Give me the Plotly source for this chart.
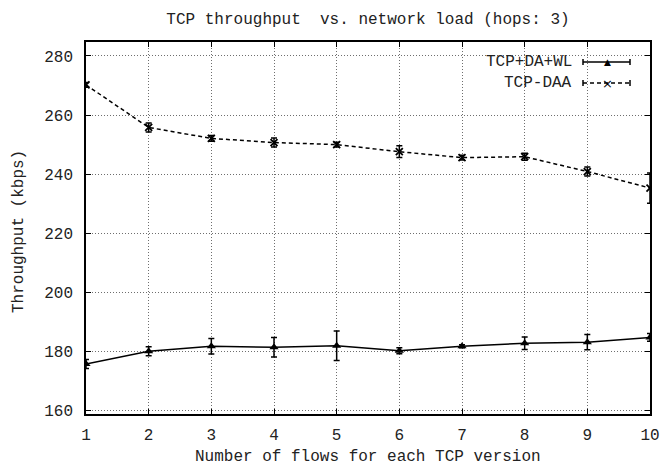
import plotly.graph_objects as go

# ── data ────────────────────────────────────────────────────────────────────
flows = [1, 2, 3, 4, 5, 6, 7, 8, 9, 10]

wl_tput = [175.8, 180.1, 181.8, 181.5, 182.0, 180.3, 181.8, 182.8, 183.2, 184.8]
wl_err  = [1.5, 1.5, 2.6, 3.3, 5.0, 1.0, 0.5, 2.1, 2.6, 1.3]

daa_tput = [270.2, 255.8, 252.1, 250.7, 250.0, 247.6, 245.6, 245.9, 240.9, 235.3]
daa_err  = [0.8, 1.5, 1.0, 1.5, 0.8, 2.0, 0.8, 1.2, 1.5, 5.1]

y_ticks = [160, 180, 200, 220, 240, 260, 280]

FONT = "Liberation Mono, Courier New, monospace"
INK = "#000000"
TXT = "#222222"
GRID = "#6e6e6e"

# plot area in pixels (gnuplot frame)
L, R, T, B = 86, 650, 42, 414
W, H = 663, 465


def px(x):
    return (x - L) / (R - L)


def py(y):
    return (B - y) / (B - T)


fig = go.Figure()

fig.add_trace(go.Scatter(
    x=flows, y=wl_tput, name="TCP+DA+WL", mode="lines+markers",
    line=dict(color=INK, width=1.5),
    marker=dict(symbol="triangle-up", size=8, color=INK),
    error_y=dict(type="data", array=wl_err, visible=True,
                 color=INK, thickness=1.5, width=3),
))
fig.add_trace(go.Scatter(
    x=flows, y=daa_tput, name="TCP-DAA", mode="lines+markers",
    line=dict(color=INK, width=1.5, dash="4px,3px"),
    marker=dict(symbol="x-thin-open", size=7, color=INK,
                line=dict(color=INK, width=1.8)),
    error_y=dict(type="data", array=daa_err, visible=True,
                 color=INK, thickness=1.5, width=3),
))

# gnuplot-style key: text on the left, sample line with caps on the right
key_rows = [
    ("TCP+DA+WL", 62, "solid", "▲", 9),
    ("TCP-DAA", 83, "4px,3px", "×", 13),
]
for label, yy, dash, glyph, gsize in key_rows:
    fig.add_annotation(xref="paper", yref="paper", x=px(574), y=py(yy),
                       text=label, showarrow=False, xanchor="right",
                       yanchor="middle", font=dict(family=FONT, size=16, color=TXT))
    fig.add_shape(type="line", xref="paper", yref="paper", x0=px(583), x1=px(630),
                  y0=py(yy), y1=py(yy), line=dict(color=INK, width=1.5, dash=dash))
    for xc in (583, 630):
        fig.add_shape(type="line", xref="paper", yref="paper", x0=px(xc), x1=px(xc),
                      y0=py(yy + 3), y1=py(yy - 3), line=dict(color=INK, width=1.5))
    fig.add_annotation(xref="paper", yref="paper", x=px(607), y=py(yy), text=glyph,
                       showarrow=False, xanchor="center", yanchor="middle",
                       font=dict(family="DejaVu Sans", size=gsize, color=INK))

# axis titles placed like gnuplot does
fig.add_annotation(xref="paper", yref="paper", x=px(368), y=py(457),
                   text="Number of flows for each TCP version", showarrow=False,
                   xanchor="center", yanchor="middle",
                   font=dict(family=FONT, size=16, color=TXT))
fig.add_annotation(xref="paper", yref="paper", x=px(19), y=py(232),
                   text="Throughput (kbps)", showarrow=False, textangle=-90,
                   xanchor="center", yanchor="middle",
                   font=dict(family=FONT, size=16, color=TXT))

axis_common = dict(
    ticks="inside", ticklen=5, tickcolor=INK, showline=True, linecolor=INK,
    linewidth=1.5, mirror="ticks", showgrid=True, gridcolor=GRID,
    griddash="1px,2px", gridwidth=1, zeroline=False, automargin=False,
    tickfont=dict(family=FONT, size=16, color=TXT),
)

fig.update_layout(
    width=W, height=H,
    paper_bgcolor="white", plot_bgcolor="white",
    font=dict(family=FONT, size=16, color=TXT),
    margin=dict(l=L, r=W - R, t=T, b=H - B),
    showlegend=False,
    title=dict(text="TCP throughput  vs. network load (hops: 3)",
               x=368 / W, xanchor="center", y=1 - 18 / H, yanchor="middle",
               xref="container", yref="container",
               font=dict(family=FONT, size=16, color=TXT)),
    xaxis=dict(range=[1, 10], tickvals=flows, ticklabelstandoff=5, **axis_common),
    yaxis=dict(range=[158.9, 284.7], tickvals=y_ticks, ticklabelstandoff=8,
               **axis_common),
)

# drop the browser's default body margin so the figure sits at the corner
fig.write_html("out.html", config={"displayModeBar": False},
               post_script="document.body.style.margin = '0';")
